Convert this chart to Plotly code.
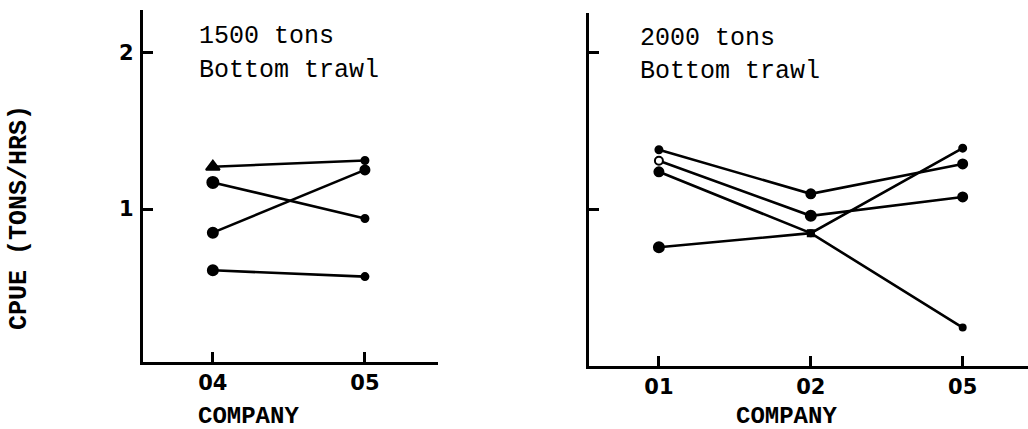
import plotly.graph_objects as go

# Company codes on each panel
companies_1500 = ["04", "05"]
companies_2000 = ["01", "02", "05"]

# CPUE (tons/hrs) per vessel, 1500-ton class
v1500_a = [1.27, 1.31]
v1500_b = [1.17, 0.94]
v1500_c = [0.85, 1.25]
v1500_d = [0.61, 0.57]

# CPUE (tons/hrs) per vessel, 2000-ton class
v2000_a = [1.38, 1.10, 1.29]
v2000_b = [1.31, 0.96, 1.08]
v2000_c = [1.24, 0.85, 0.25]
v2000_d = [0.76, 0.85, 1.39]

y_tick_vals = [1, 2]
y_tick_text = ["1", "2"]

panel_titles = [["1500 tons", "Bottom trawl"], ["2000 tons", "Bottom trawl"]]
x_title = "COMPANY"
y_title = "CPUE (TONS/HRS)"

TYPE_FONT = "Liberation Mono, Courier New, monospace"
TICK_FONT = dict(family="DejaVu Sans, Arial, sans-serif", size=21, color="black", weight="bold")

fig = go.Figure()


def add_vessel(xs, ys, xaxis, yaxis, symbols, sizes, fills):
    fig.add_trace(go.Scatter(
        x=xs, y=ys, xaxis=xaxis, yaxis=yaxis, mode="lines+markers",
        line=dict(color="black", width=2.6),
        marker=dict(symbol=symbols, size=sizes, color=fills, opacity=1,
                    line=dict(color="black", width=2)),
        showlegend=False, hoverinfo="x+y",
    ))


# Left panel
add_vessel(companies_1500, v1500_a, "x", "y", ["triangle-up", "circle"], [12, 7], "black")
add_vessel(companies_1500, v1500_b, "x", "y", ["circle", "circle"], [11, 7], "black")
add_vessel(companies_1500, v1500_c, "x", "y", ["circle", "circle"], [10, 9], "black")
add_vessel(companies_1500, v1500_d, "x", "y", ["circle", "circle"], [10, 7], "black")

# Right panel
add_vessel(companies_2000, v2000_a, "x2", "y2", "circle", [7, 9, 9], "black")
add_vessel(companies_2000, v2000_b, "x2", "y2", "circle", [8, 10, 9], ["white", "black", "black"])
add_vessel(companies_2000, v2000_c, "x2", "y2", ["circle", "square", "circle"], [9, 6, 6], "black")
add_vessel(companies_2000, v2000_d, "x2", "y2", "circle", [10, 6, 7], "black")

axis_common = dict(showline=True, linecolor="black", linewidth=3, ticks="inside",
                   ticklen=10, tickwidth=3, tickcolor="black", showgrid=False,
                   zeroline=False, tickfont=TICK_FONT)

fig.update_layout(
    width=1028, height=429,
    margin=dict(l=0, r=0, t=0, b=0),
    paper_bgcolor="white", plot_bgcolor="white",
    xaxis=dict(axis_common, domain=[0.139, 0.426], anchor="y", type="category",
               categoryorder="array", categoryarray=companies_1500,
               range=[-0.46, 1.48], ticklabelstandoff=0),
    yaxis=dict(axis_common, domain=[0.156, 0.977], anchor="x", range=[0.025, 2.27],
               tickvals=y_tick_vals, ticktext=y_tick_text, ticklabelstandoff=2),
    xaxis2=dict(axis_common, domain=[0.573, 1.0], anchor="y2", type="category",
                categoryorder="array", categoryarray=companies_2000,
                range=[-0.46, 2.43], ticklabelstandoff=0),
    yaxis2=dict(axis_common, domain=[0.147, 0.970], anchor="x2", range=[0.006, 2.25],
                tickvals=y_tick_vals, showticklabels=False),
)

annotations = []
for (x0, y0), lines in zip([(197, 36), (638, 38)], panel_titles):
    for i, txt in enumerate(lines):
        annotations.append(dict(
            text=txt, x=x0 / 1028, y=1 - (y0 + 34 * i) / 429, xref="paper", yref="paper",
            xanchor="left", yanchor="middle", showarrow=False,
            font=dict(family=TYPE_FONT, size=25, color="black"),
        ))
for xc in (248, 786):
    annotations.append(dict(
        text=x_title, x=xc / 1028, y=1 - 416 / 429, xref="paper", yref="paper",
        xanchor="center", yanchor="middle", showarrow=False,
        font=dict(family=TYPE_FONT, size=24, color="black", weight="bold"),
    ))
annotations.append(dict(
    text=y_title, x=19 / 1028, y=1 - 218 / 429, xref="paper", yref="paper",
    xanchor="center", yanchor="middle", showarrow=False, textangle=-90,
    font=dict(family=TYPE_FONT, size=25, color="black", weight="bold"),
))
fig.update_layout(annotations=annotations)

fig.write_html("out.html")
